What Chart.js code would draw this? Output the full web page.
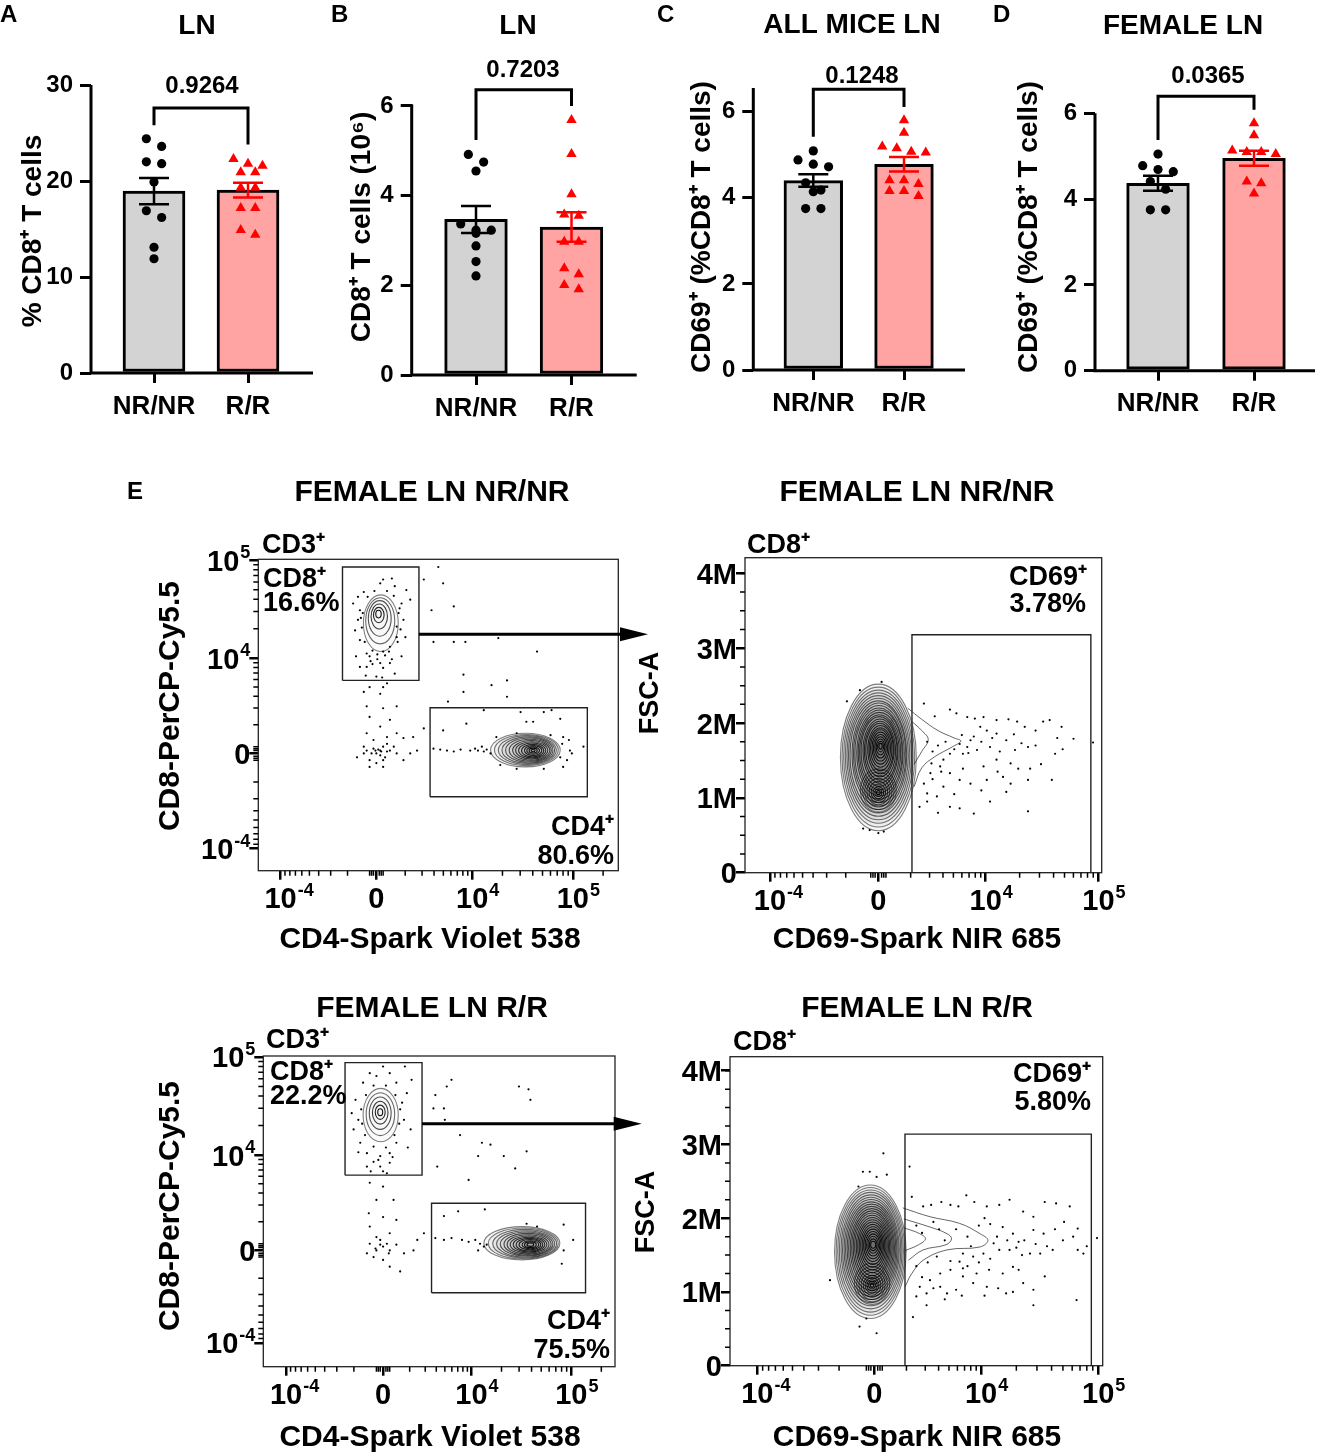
<!DOCTYPE html>
<html>
<head>
<meta charset="utf-8">
<script src="https://cdn.jsdelivr.net/npm/chart.js@4.4.1/dist/chart.umd.min.js"></script>
<style>
  html, body { margin: 0; padding: 0; background: #fff; }
  #page { position: relative; width: 1321px; height: 1454px; overflow: hidden; background: #fff; }
  #page canvas { position: absolute; }
</style>
</head>
<body>
<div id="page"></div>
<script>
// ---- bar panels (A-D) ----
const groups = ['NR/NR', 'R/R'];

const aNR = [24.4, 23.6, 22.0, 21.8, 19.9, 16.9, 16.2, 13.1, 11.9];
const aRR = [22.3, 21.8, 21.6, 20.9, 20.9, 19.3, 19.3, 17.2, 17.2, 14.9, 14.4];
const aMean = [18.95, 19.05];
const aSem = [1.36, 0.78];
const aTicks = [0, 10, 20, 30];

const bNR = [4.92, 4.75, 4.55, 3.37, 3.23, 3.23, 3.16, 2.88, 2.53, 2.21];
const bRR = [5.69, 4.93, 4.03, 3.58, 3.55, 2.97, 2.97, 2.38, 2.25, 2.01, 1.91];
const bMean = [3.47, 3.30];
const bSem = [0.30, 0.33];
const bTicks = [0, 2, 4, 6];

const cNR = [5.09, 4.88, 4.78, 4.72, 4.35, 4.18, 4.14, 3.75, 3.75];
const cRR = [5.80, 5.51, 5.19, 5.15, 5.07, 5.05, 4.41, 4.41, 4.32, 4.16, 4.16, 4.04];
const cMean = [4.40, 4.78];
const cSem = [0.145, 0.17];
const cTicks = [0, 2, 4, 6];

const dNR = [5.05, 4.78, 4.69, 4.64, 4.41, 4.23, 3.75, 3.75];
const dRR = [5.77, 5.49, 5.13, 5.10, 5.10, 5.05, 4.41, 4.37, 4.13];
const dMean = [4.37, 4.95];
const dSem = [0.175, 0.175];
const dTicks = [0, 2, 4, 6];

const pValues = ['0.9264', '0.7203', '0.1248', '0.0365'];

// ---- flow panels (E) ----
// biexponential axes in display units: 10^-4, 0, 10^4, 10^5  ([base, exponent])
const biexLabels = [['10', '-4'], ['0', ''], ['10', '4'], ['10', '5']];
const fscLabels = [['0', ''], ['1M', ''], ['2M', ''], ['3M', ''], ['4M', '']];
const fscTicks = [0, 1, 2, 3, 4];
const fscMinor = [0.25, 0.5, 0.75, 1.25, 1.5, 1.75, 2.25, 2.5, 2.75, 3.25, 3.5, 3.75, 4.0];
const nrCd4Ticks = [0, 0.99, 1.98, 3.02];
const nrCd8Ticks = [0, 0.99, 1.98, 3.0];
const nrCd69Ticks = [0, 1.0, 1.99, 3.03];
const rCd4Ticks = [0, 1.02, 1.95, 3.0];
const rCd8Ticks = [0, 0.97, 1.97, 3.0];
const rCd69Ticks = [0, 1.03, 1.97, 3.0];

// gates: [xFrom, xTo, yFrom, yTo]
const nrCd8Gate = [0.64, 1.43, 1.75, 2.93];
const nrCd4Gate = [1.545, 3.17, 0.54, 1.465];
const rCd8Gate = [0.62, 1.43, 1.76, 2.94];
const rCd4Gate = [1.53, 3.15, 0.526, 1.465];
const nrCd69Gate = [1.31, 2.96, 0.0, 3.18];
const rCd69Gate = [1.30, 2.94, 0.0, 3.14];

// contour rings: [centreX, centreY, radiusX, radiusY]
const nrCd8Rings = [[1.036, 2.345, 0.180, 0.295], [1.030, 2.370, 0.150, 0.240], [1.025, 2.395, 0.118, 0.185],
  [1.020, 2.415, 0.085, 0.130], [1.015, 2.430, 0.055, 0.080], [1.012, 2.440, 0.028, 0.040]];
const nrCd4Rings = [[2.53, 1.025, 0.360, 0.175], [2.54, 1.025, 0.330, 0.162], [2.55, 1.025, 0.300, 0.150],
  [2.56, 1.024, 0.272, 0.138], [2.57, 1.024, 0.245, 0.126], [2.58, 1.023, 0.218, 0.114],
  [2.59, 1.022, 0.192, 0.102], [2.595, 1.022, 0.166, 0.090], [2.60, 1.021, 0.140, 0.077],
  [2.605, 1.020, 0.115, 0.064], [2.61, 1.020, 0.090, 0.051], [2.61, 1.020, 0.066, 0.038],
  [2.61, 1.020, 0.042, 0.025], [2.61, 1.020, 0.020, 0.013]];
const rCd8Rings = [[0.995, 2.390, 0.185, 0.280], [0.992, 2.400, 0.150, 0.225], [0.990, 2.410, 0.115, 0.170],
  [0.990, 2.415, 0.082, 0.120], [0.990, 2.420, 0.052, 0.075], [0.990, 2.420, 0.026, 0.036]];
const rCd4Rings = [[2.48, 1.045, 0.400, 0.175], [2.495, 1.043, 0.368, 0.162], [2.51, 1.041, 0.336, 0.150],
  [2.52, 1.039, 0.306, 0.138], [2.53, 1.037, 0.277, 0.126], [2.54, 1.035, 0.248, 0.114],
  [2.545, 1.033, 0.220, 0.102], [2.55, 1.032, 0.193, 0.090], [2.555, 1.031, 0.166, 0.078],
  [2.56, 1.030, 0.140, 0.066], [2.565, 1.030, 0.114, 0.054], [2.57, 1.030, 0.088, 0.042],
  [2.57, 1.030, 0.062, 0.030], [2.57, 1.030, 0.036, 0.018]];
const nrBlobRings = [[1.00, 1.54, 0.350, 0.980], [1.00, 1.545, 0.335, 0.935], [1.00, 1.55, 0.320, 0.890],
  [1.00, 1.555, 0.305, 0.848], [1.00, 1.56, 0.290, 0.806], [1.00, 1.565, 0.276, 0.766],
  [1.00, 1.57, 0.262, 0.726], [1.005, 1.58, 0.248, 0.688], [1.005, 1.585, 0.235, 0.650],
  [1.005, 1.59, 0.222, 0.612], [1.01, 1.60, 0.209, 0.575], [1.01, 1.605, 0.196, 0.538],
  [1.01, 1.61, 0.183, 0.502], [1.01, 1.62, 0.170, 0.466], [1.015, 1.625, 0.157, 0.430],
  [1.015, 1.63, 0.144, 0.394], [1.015, 1.64, 0.131, 0.358], [1.02, 1.645, 0.118, 0.322],
  [1.02, 1.65, 0.105, 0.286], [1.02, 1.66, 0.092, 0.250], [1.02, 1.665, 0.079, 0.214],
  [1.02, 1.67, 0.066, 0.178], [1.02, 1.675, 0.053, 0.142], [1.02, 1.68, 0.040, 0.106],
  [1.02, 1.685, 0.027, 0.070], [1.02, 1.69, 0.015, 0.038]];
const nrLobeRings = [[1.00, 1.10, 0.165, 0.290], [1.00, 1.095, 0.145, 0.250], [1.00, 1.09, 0.125, 0.212],
  [1.00, 1.085, 0.105, 0.176], [1.00, 1.08, 0.086, 0.142], [1.00, 1.075, 0.067, 0.110],
  [1.00, 1.07, 0.049, 0.080], [1.00, 1.07, 0.032, 0.052], [1.00, 1.07, 0.017, 0.027]];
const rBlobRings = [[0.995, 1.545, 0.315, 0.905], [0.996, 1.550, 0.302, 0.866], [0.997, 1.555, 0.289, 0.828],
  [0.998, 1.560, 0.276, 0.790], [1.000, 1.565, 0.263, 0.752], [1.000, 1.570, 0.250, 0.715],
  [1.002, 1.575, 0.238, 0.678], [1.003, 1.580, 0.226, 0.642], [1.005, 1.585, 0.214, 0.606],
  [1.006, 1.590, 0.202, 0.570], [1.008, 1.595, 0.190, 0.535], [1.009, 1.600, 0.178, 0.500],
  [1.010, 1.605, 0.166, 0.465], [1.011, 1.610, 0.154, 0.430], [1.013, 1.615, 0.142, 0.395],
  [1.014, 1.620, 0.130, 0.360], [1.015, 1.623, 0.118, 0.325], [1.016, 1.626, 0.106, 0.290],
  [1.017, 1.629, 0.094, 0.255], [1.018, 1.632, 0.082, 0.220], [1.019, 1.635, 0.070, 0.185],
  [1.020, 1.638, 0.058, 0.150], [1.020, 1.640, 0.046, 0.115], [1.020, 1.640, 0.034, 0.080],
  [1.020, 1.640, 0.022, 0.048]];
const rLobeRings = [[1.01, 1.11, 0.155, 0.280], [1.01, 1.105, 0.135, 0.240], [1.01, 1.10, 0.115, 0.203],
  [1.01, 1.095, 0.096, 0.168], [1.01, 1.09, 0.078, 0.135], [1.01, 1.09, 0.061, 0.104],
  [1.01, 1.09, 0.045, 0.076], [1.01, 1.09, 0.030, 0.050], [1.01, 1.09, 0.016, 0.026]];

// CD69+ shoulder contours
const nrTail1 = [[1.27, 2.20], [1.40, 2.05], [1.55, 1.90], [1.70, 1.80], [1.76, 1.76], [1.68, 1.68], [1.52, 1.55], [1.40, 1.40], [1.33, 1.15]];
const nrTail2 = [[1.31, 2.02], [1.40, 1.90], [1.46, 1.78], [1.40, 1.62], [1.33, 1.45]];
const rTail1 = [[1.28, 2.14], [1.52, 2.02], [1.78, 1.93], [1.96, 1.79], [2.03, 1.70], [1.96, 1.61], [1.67, 1.57], [1.46, 1.43], [1.36, 1.25], [1.30, 1.07]];
const rTail2 = [[1.29, 1.99], [1.52, 1.88], [1.67, 1.79], [1.71, 1.72], [1.66, 1.64], [1.46, 1.57], [1.33, 1.43]];
const rTail3 = [[1.29, 1.87], [1.43, 1.79], [1.48, 1.72], [1.42, 1.64], [1.30, 1.56]];

// single events
const nrCd4Cd8Dots = [
  [0.75, 2.55], [0.80, 2.38], [0.77, 2.27], [0.82, 2.17], [0.89, 2.03], [1.06, 2.05], [1.13, 2.10], [1.20, 2.20],
  [1.27, 2.38], [1.25, 2.55], [1.18, 2.73], [1.06, 2.80], [1.03, 2.76], [1.15, 2.81], [1.30, 2.69], [1.34, 2.59],
  [0.86, 2.67], [0.82, 1.89], [0.89, 1.89], [1.03, 1.93], [1.06, 1.88], [1.13, 1.93], [0.99, 1.79], [1.08, 2.01],
  [0.92, 2.00], [0.82, 2.48], [1.22, 2.45], [1.20, 2.31], [0.80, 2.62],
  [0.84, 2.30], [0.85, 2.45], [0.87, 2.15], [0.95, 2.06], [1.00, 2.02], [1.12, 2.05], [1.21, 2.15], [1.24, 2.28],
  [1.23, 2.50], [1.17, 2.63], [1.10, 2.68], [0.97, 2.68], [0.90, 2.62], [0.83, 2.40], [1.00, 1.97], [0.95, 1.92],
  [1.15, 1.97], [0.88, 1.80], [1.05, 1.78], [1.18, 1.82], [0.93, 1.95], [1.25, 2.00], [0.78, 2.00], [1.29, 2.20],
  [0.92, 1.68], [1.06, 1.68], [1.03, 1.61], [0.86, 1.63], [1.10, 1.72], [0.89, 1.48], [1.06, 1.46], [1.20, 1.48],
  [0.92, 1.37], [1.13, 1.34], [1.03, 1.27], [0.89, 1.20], [1.10, 1.16], [1.20, 1.20], [1.27, 1.15], [1.37, 1.16],
  [1.48, 1.25], [1.34, 0.99], [1.41, 1.02], [1.20, 0.99], [1.27, 0.92], [1.06, 0.85], [0.92, 0.85], [0.86, 0.99],
  [0.79, 0.95], [1.03, 1.02], [0.99, 0.99], [0.96, 1.04], [1.06, 1.06], [1.03, 0.97], [1.10, 1.01], [0.92, 0.92],
  [0.99, 0.89], [0.98, 1.02], [1.01, 1.03], [1.04, 1.01], [0.94, 0.99], [1.08, 0.95], [0.89, 1.02], [1.13, 1.02],
  [1.06, 0.92], [0.86, 1.06], [1.17, 1.06], [0.96, 1.13], [1.10, 1.09],
  [1.63, 2.93], [1.68, 2.76], [1.79, 2.52], [1.56, 2.48], [1.48, 2.80], [1.58, 2.15], [1.79, 2.15], [1.91, 2.15],
  [2.25, 2.19], [2.65, 2.05], [1.89, 1.81], [2.18, 1.70], [2.34, 1.75], [2.34, 1.58], [1.73, 1.53], [1.89, 1.63],
  [2.10, 1.44], [2.48, 1.42], [2.72, 1.42], [2.80, 1.44], [2.89, 1.35], [1.68, 1.23], [1.92, 1.30], [2.54, 1.32],
  [2.61, 1.32], [2.92, 1.16], [2.98, 1.13], [3.01, 0.99], [3.13, 1.06], [2.96, 0.92], [2.92, 0.85],
  [1.58, 1.04], [1.65, 1.03], [1.72, 1.02], [1.79, 1.01], [1.86, 1.03], [1.96, 1.02], [2.01, 1.04], [2.04, 1.02],
  [2.10, 1.01], [2.13, 1.03], [2.17, 0.99], [2.08, 1.06],
  [2.23, 1.16], [2.44, 1.20], [2.79, 1.18], [2.91, 1.09], [2.89, 0.95], [2.72, 0.83], [2.44, 0.83], [2.27, 0.87], [2.99, 1.02]
];
const rCd4Cd8Dots = [
  [0.73, 2.55], [0.76, 2.34], [0.71, 2.24], [0.78, 2.10], [0.85, 1.99], [0.99, 1.96], [1.09, 1.99], [1.16, 2.10],
  [1.24, 2.34], [1.22, 2.52], [1.16, 2.73], [1.02, 2.90], [0.95, 2.80], [1.09, 2.83], [1.25, 2.90], [1.32, 2.76],
  [0.81, 2.73], [0.85, 1.85], [0.99, 1.85], [1.02, 1.80], [0.92, 1.90], [1.09, 1.89], [1.31, 2.24], [0.69, 2.41],
  [1.27, 2.62], [0.88, 2.83],
  [0.80, 2.30], [0.79, 2.45], [0.83, 2.18], [0.92, 2.06], [1.05, 2.05], [1.14, 2.18], [1.19, 2.30], [1.20, 2.45],
  [1.15, 2.60], [1.05, 2.70], [0.92, 2.70], [0.84, 2.60], [0.97, 1.92], [1.12, 1.95], [0.89, 1.80], [1.06, 1.78],
  [0.76, 2.00], [1.28, 2.05],
  [0.88, 1.68], [1.02, 1.64], [0.95, 1.50], [1.13, 1.50], [0.87, 1.36], [1.02, 1.32], [1.16, 1.29], [0.88, 1.22],
  [1.09, 1.15], [0.95, 1.11], [0.88, 1.04], [0.99, 1.08], [1.02, 1.01], [0.95, 0.97], [1.09, 0.97], [1.16, 1.03],
  [1.24, 0.94], [1.34, 0.97], [1.38, 1.08], [1.45, 1.15], [0.85, 0.94], [0.92, 0.90], [1.02, 0.87], [1.09, 0.80],
  [1.20, 0.75], [0.99, 1.03], [0.94, 0.99], [1.06, 1.04], [1.08, 0.94],
  [1.57, 2.60], [1.74, 2.76], [1.69, 2.69], [1.66, 2.46], [1.55, 2.46], [1.67, 2.34], [2.45, 2.69], [2.55, 2.66],
  [2.57, 2.55], [1.83, 2.18], [2.06, 2.10], [2.15, 2.08], [2.02, 1.96], [2.29, 1.96], [2.53, 2.01], [1.59, 1.85],
  [2.41, 1.83], [1.92, 1.71], [1.81, 1.38], [2.09, 1.40], [1.66, 1.33], [2.53, 1.25], [2.64, 1.22], [2.92, 1.24],
  [3.02, 1.08], [2.92, 0.97], [2.90, 0.83],
  [1.57, 1.10], [1.66, 1.08], [1.74, 1.10], [1.85, 1.08], [1.92, 1.06], [1.99, 1.08], [2.04, 1.04], [2.08, 1.01],
  [2.11, 1.03], [2.02, 0.97]
];
const nrCd69Dots = [
  [1.42, 2.26], [1.52, 2.09], [1.66, 2.18], [1.72, 2.13], [1.82, 2.08], [1.89, 2.06], [1.97, 2.08], [2.09, 2.04],
  [2.20, 2.05], [2.28, 2.02], [2.45, 1.90], [2.52, 2.02], [2.58, 2.04], [2.69, 1.95], [2.65, 1.80], [2.80, 1.79],
  [2.98, 1.74], [2.63, 1.59], [2.32, 1.73], [2.38, 1.68], [2.26, 1.64], [2.18, 1.77], [2.09, 1.86], [2.00, 1.90],
  [1.94, 1.95], [1.88, 1.82], [1.82, 1.68], [1.78, 1.59], [1.91, 1.64], [2.03, 1.68], [1.85, 1.77], [1.77, 1.84],
  [1.66, 1.59], [1.60, 1.51], [1.57, 1.42], [1.66, 1.33], [1.75, 1.24], [1.85, 1.19], [2.00, 1.24], [2.15, 1.28],
  [2.29, 1.39], [2.40, 1.39], [2.38, 1.24], [2.22, 1.19], [2.18, 1.08], [2.03, 0.95], [1.88, 0.79], [1.75, 0.86],
  [1.66, 0.88], [1.54, 1.02], [1.45, 1.06], [1.48, 1.33], [1.42, 1.19], [1.38, 0.88], [2.38, 0.82], [2.60, 1.24],
  [1.58, 1.35], [1.49, 1.46], [1.78, 1.39], [1.97, 1.42], [2.09, 1.51], [2.22, 1.46],
  [1.45, 1.75], [1.50, 1.62], [1.55, 1.70], [1.62, 1.75], [1.70, 1.65], [1.75, 1.72], [1.83, 1.60], [1.95, 1.75],
  [2.05, 1.80], [2.12, 1.62], [2.25, 1.85], [2.35, 1.95], [2.45, 1.70], [2.50, 1.45], [2.70, 1.65], [1.50, 1.25],
  [1.60, 1.15], [1.70, 1.05], [1.95, 1.10], [2.10, 1.35], [1.45, 0.95], [1.55, 0.80],
  [0.83, 2.44], [0.71, 2.29], [1.03, 2.55], [0.92, 0.57], [1.00, 0.53], [1.05, 0.55], [0.86, 0.59]
];
const rCd69Dots = [
  [0.93, 2.63], [1.11, 2.88], [1.05, 2.56], [1.14, 2.59], [0.89, 2.43], [1.34, 2.70], [1.36, 2.29], [1.46, 2.16],
  [1.53, 2.18], [1.62, 2.22], [1.70, 2.18], [1.77, 2.16], [1.84, 2.31], [1.91, 2.22], [2.02, 2.16], [2.13, 2.18],
  [2.22, 2.25], [2.34, 2.09], [2.43, 2.02], [2.53, 2.22], [2.63, 2.20], [2.75, 2.16], [2.82, 1.86], [2.69, 1.70],
  [2.60, 1.57], [2.82, 1.57], [2.87, 1.52], [2.52, 1.79], [2.43, 1.84], [2.35, 1.70], [2.25, 1.79], [2.16, 1.88],
  [2.11, 1.75], [2.08, 1.66], [2.13, 1.57], [2.22, 1.57], [2.30, 1.68], [2.40, 1.52], [2.49, 1.52], [1.99, 1.52],
  [1.90, 1.48], [1.81, 1.52], [1.78, 1.41], [1.70, 1.30], [1.61, 1.25], [1.52, 1.16], [1.43, 1.07], [1.40, 0.94],
  [1.49, 0.98], [1.61, 1.07], [1.75, 1.03], [1.90, 1.12], [2.02, 1.07], [2.12, 1.05], [2.19, 0.98], [2.34, 1.12],
  [2.43, 1.03], [2.53, 1.21], [1.93, 1.25], [1.81, 1.21], [1.67, 0.98], [1.49, 0.82], [1.37, 0.66], [2.43, 0.82],
  [2.81, 0.89], [2.25, 1.34], [2.04, 1.30], [1.81, 1.32], [2.16, 1.25], [2.99, 1.73],
  [1.40, 1.90], [1.45, 1.80], [1.55, 1.95], [1.60, 1.85], [1.65, 1.70], [1.75, 1.85], [1.85, 1.75], [1.88, 1.62],
  [1.95, 1.90], [2.00, 2.00], [2.05, 1.92], [2.20, 1.70], [2.28, 1.60], [2.33, 1.50], [2.45, 1.65], [2.55, 1.62],
  [2.62, 1.85], [2.70, 1.95], [2.78, 1.75], [2.90, 1.62], [1.40, 1.35], [1.50, 1.40], [1.58, 1.48], [1.70, 1.42],
  [1.85, 1.35], [1.95, 1.40], [2.05, 1.45], [2.30, 1.30], [1.45, 1.20], [1.55, 1.05], [1.65, 0.90], [1.80, 0.95],
  [2.00, 0.95], [2.25, 1.00],
  [0.64, 1.16], [0.90, 0.53], [1.05, 0.44], [0.96, 0.64], [0.99, 2.63]
];

// ---------------------------------------------------------------
const FONT = '"Liberation Sans", Arial, Helvetica, sans-serif';
Chart.defaults.font.family = FONT;
Chart.defaults.font.weight = 'bold';
Chart.defaults.color = '#000';
Chart.defaults.animation = false;
Chart.defaults.events = [];
Chart.defaults.plugins.legend.display = false;
Chart.defaults.plugins.tooltip.enabled = false;

const page = document.getElementById('page');

function addCanvas(box) {
  const c = document.createElement('canvas');
  c.width = box[2];
  c.height = box[3];
  c.style.left = box[0] + 'px';
  c.style.top = box[1] + 'px';
  page.appendChild(c);
  return c;
}

// text positions are page coordinates; ox/oy is the canvas origin
function label(ctx, ox, oy, t) {
  ctx.save();
  ctx.font = 'bold ' + t.size + 'px ' + FONT;
  ctx.fillStyle = '#000';
  ctx.textAlign = t.align || 'center';
  ctx.textBaseline = 'middle';
  ctx.translate(t.x - ox, t.y - oy);
  if (t.rot) ctx.rotate(-Math.PI / 2);
  ctx.fillText(t.text, 0, 0);
  ctx.restore();
}

// "10" with a raised exponent; y is the middle of the capitals
function powerLabel(ctx, lbl, x, y, mode) {
  const [base, exp] = lbl;
  ctx.save();
  ctx.fillStyle = '#000';
  ctx.textAlign = 'left';
  ctx.textBaseline = 'alphabetic';
  ctx.font = 'bold 29px ' + FONT;
  const bw = ctx.measureText(base).width;
  ctx.font = 'bold 18px ' + FONT;
  const ew = exp ? ctx.measureText(exp).width + 1 : 0;
  const x0 = mode === 'right' ? x - bw - ew : x - bw / 2;
  ctx.font = 'bold 29px ' + FONT;
  ctx.fillText(base, x0, y + 10.5);
  if (exp) {
    ctx.font = 'bold 18px ' + FONT;
    ctx.fillText(exp, x0 + bw + 1, y - 2);
  }
  ctx.restore();
}

// column-scatter layout: points closer than `gap` px form a row, rows are centred
function columnScatter(values, pxY, pxX, gap, step) {
  const order = values.map((v, i) => i).sort((a, b) => values[b] - values[a]);
  const off = [];
  let row = [];
  const flush = () => {
    row.forEach((i, k) => { off[i] = (k - (row.length - 1) / 2) * step / pxX; });
    row = [];
  };
  for (const i of order) {
    if (row.length && (values[row[0]] - values[i]) * pxY > gap) flush();
    row.push(i);
  }
  flush();
  return values.map((v, i) => ({ x: off[i], y: v }));
}

function barPanel(p) {
  const canvas = addCanvas(p.box);
  const [ox, oy, w, h] = p.box;
  const pxY = (p.zeroY - p.tickTopY) / p.ticks[p.ticks.length - 1];
  const areaTop = p.zeroY - p.axisTop * pxY;
  const span = p.c1 - p.c0;
  const nrPts = columnScatter(p.nr, pxY, span, 9, 15.3);
  const rrPts = columnScatter(p.rr, pxY, span, 9, 14.5).map(d => ({ x: 1 + d.x, y: d.y }));
  const ink = ['#000', '#ff0000'];

  const decor = {
    id: 'barDecor',
    afterDatasetsDraw(chart) {
      const ctx = chart.ctx, xs = chart.scales.x, ys = chart.scales.y, ca = chart.chartArea;
      ctx.save();
      p.mean.forEach((m, g) => {
        const x = xs.getPixelForValue(g);
        const hi = ys.getPixelForValue(m + p.sem[g]);
        const lo = ys.getPixelForValue(m - p.sem[g]);
        ctx.strokeStyle = ink[g];
        ctx.lineWidth = 2.5;
        ctx.beginPath();
        ctx.moveTo(x, lo); ctx.lineTo(x, hi);
        ctx.moveTo(x - 15, hi); ctx.lineTo(x + 15, hi);
        ctx.moveTo(x - 15, lo); ctx.lineTo(x + 15, lo);
        ctx.stroke();
      });
      ctx.strokeStyle = '#000';
      ctx.lineWidth = 3;
      const yz = ys.getPixelForValue(0);
      ctx.beginPath();
      ctx.moveTo(ca.left, ys.getPixelForValue(p.axisTop));
      ctx.lineTo(ca.left, yz + 1.5);
      ctx.moveTo(ca.left - 1.5, yz);
      ctx.lineTo(ca.right, yz);
      ctx.stroke();
      const [top, legL, legR] = p.bracket;
      ctx.beginPath();
      ctx.moveTo(xs.getPixelForValue(0), ys.getPixelForValue(legL));
      ctx.lineTo(xs.getPixelForValue(0), ys.getPixelForValue(top));
      ctx.lineTo(xs.getPixelForValue(1), ys.getPixelForValue(top));
      ctx.lineTo(xs.getPixelForValue(1), ys.getPixelForValue(legR));
      ctx.stroke();
      ctx.restore();
      p.texts.forEach(t => label(ctx, ox, oy, t));
    }
  };

  new Chart(canvas, {
    type: 'bar',
    data: {
      datasets: [
        { type: 'scatter', data: nrPts, pointStyle: 'circle', pointRadius: 4.6, backgroundColor: '#000', borderWidth: 0, order: 1 },
        { type: 'scatter', data: rrPts, pointStyle: 'triangle', pointRadius: 6, backgroundColor: '#ff0000', borderWidth: 0, order: 1 },
        {
          type: 'bar',
          data: p.mean.map((m, g) => ({ x: g, y: m })),
          backgroundColor: ['#d3d3d3', '#ffa3a3'],
          borderColor: '#000', borderWidth: 3, borderSkipped: false,
          barThickness: p.barW, order: 2
        }
      ]
    },
    options: {
      responsive: false,
      layout: { padding: { left: 0, top: areaTop - oy, right: ox + w - p.right, bottom: 0 } },
      scales: {
        x: {
          type: 'linear',
          offset: false,
          min: (p.left - p.c0) / span,
          max: (p.right - p.c0) / span,
          afterBuildTicks: s => { s.ticks = [{ value: 0 }, { value: 1 }]; },
          afterFit: s => { s.height = oy + h - p.zeroY; s.paddingLeft = 0; s.paddingRight = 0; },
          ticks: { callback: v => groups[v], font: { size: 26 }, padding: 8, autoSkip: false, maxRotation: 0 },
          grid: { offset: false, drawOnChartArea: false, tickLength: 10, lineWidth: 3, color: '#000' },
          border: { display: false }
        },
        y: {
          min: 0,
          max: p.axisTop,
          afterBuildTicks: s => { s.ticks = p.ticks.map(v => ({ value: v })); },
          afterFit: s => { s.width = p.left - ox; s.paddingTop = 0; s.paddingBottom = 0; },
          ticks: { font: { size: 24 }, padding: 7, autoSkip: false },
          grid: { drawOnChartArea: false, tickLength: 11, lineWidth: 3, color: '#000' },
          border: { display: false }
        }
      }
    },
    plugins: [decor]
  });
}

// log-style minor tick fractions between biex decades
const decadeFrac = [0.301, 0.477, 0.602, 0.699, 0.778, 0.845, 0.903, 0.954];
function biexMinor(t) {
  const out = [];
  decadeFrac.forEach(f => {
    out.push(t[0] + (t[1] - t[0]) * (1 - f));
    out.push(t[1] + (t[2] - t[1]) * f);
    out.push(t[2] + (t[3] - t[2]) * f);
    out.push(t[3] + (t[3] - t[2]) * f);
  });
  [-0.07, -0.05, -0.03, 0.03, 0.05, 0.07].forEach(d => out.push(t[1] + d));
  return out;
}

function flowPanel(p) {
  const canvas = addCanvas(p.box);
  const [ox, oy, w, h] = p.box;
  const [aL, aT, aR, aB] = p.area;
  const pts = arr => arr.map(([x, y]) => ({ x, y }));
  const rect = g => pts([[g[0], g[2]], [g[1], g[2]], [g[1], g[3]], [g[0], g[3]], [g[0], g[2]]]);
  const xMinor = p.xMinor || biexMinor(p.xTicks);
  const yMinor = p.yMinor || biexMinor(p.yTicks);

  const decor = {
    id: 'flowDecor',
    beforeDatasetsDraw(chart) {
      const ctx = chart.ctx, xs = chart.scales.x, ys = chart.scales.y, ca = chart.chartArea;
      ctx.save();
      ctx.beginPath();
      ctx.rect(ca.left, ca.top, ca.width, ca.height);
      ctx.clip();
      ctx.lineWidth = 1.1;
      p.rings.forEach((levels, k) => levels.forEach((r, i) => {
        const cx = xs.getPixelForValue(r[0]), cy = ys.getPixelForValue(r[1]);
        const rx = Math.abs(xs.getPixelForValue(r[0] + r[2]) - cx);
        const ry = Math.abs(ys.getPixelForValue(r[1] + r[3]) - cy);
        ctx.beginPath();
        ctx.ellipse(cx, cy, rx, ry, 0, 0, Math.PI * 2);
        ctx.fillStyle = 'rgba(0,0,0,' + p.ringFill[k] + ')';
        ctx.fill();
        ctx.strokeStyle = 'rgba(0,0,0,' + (0.5 + 0.45 * i / (levels.length - 1)).toFixed(2) + ')';
        ctx.stroke();
      }));
      ctx.restore();
    },
    afterDraw(chart) {
      const ctx = chart.ctx, xs = chart.scales.x, ys = chart.scales.y, ca = chart.chartArea;
      ctx.save();
      ctx.strokeStyle = '#222';
      ctx.lineWidth = 1.3;
      ctx.strokeRect(ca.left, ca.top, ca.width, ca.height);
      ctx.strokeStyle = '#000';
      ctx.lineWidth = 1.5;
      ctx.beginPath();
      xMinor.forEach(v => {
        if (v <= xs.min || v >= xs.max) return;
        const x = xs.getPixelForValue(v);
        ctx.moveTo(x, ca.bottom); ctx.lineTo(x, ca.bottom + 5);
      });
      yMinor.forEach(v => {
        if (v <= ys.min || v >= ys.max) return;
        const y = ys.getPixelForValue(v);
        ctx.moveTo(ca.left - 5, y); ctx.lineTo(ca.left, y);
      });
      ctx.stroke();
      if (p.arrow) {
        const [xv, yv, endX] = p.arrow;
        const x0 = xs.getPixelForValue(xv), y0 = ys.getPixelForValue(yv), x1 = endX - ox;
        ctx.lineWidth = 3;
        ctx.beginPath();
        ctx.moveTo(x0, y0); ctx.lineTo(x1 - 26, y0);
        ctx.stroke();
        ctx.fillStyle = '#000';
        ctx.beginPath();
        ctx.moveTo(x1, y0); ctx.lineTo(x1 - 28, y0 - 7); ctx.lineTo(x1 - 28, y0 + 7);
        ctx.closePath();
        ctx.fill();
      }
      ctx.restore();
      p.xTicks.forEach((v, i) => powerLabel(ctx, p.xLabels[i], xs.getPixelForValue(v), ca.bottom + 27, 'center'));
      p.yTicks.forEach((v, i) => powerLabel(ctx, p.yLabels[i], ca.left - 8, ys.getPixelForValue(v), 'right'));
      p.texts.forEach(t => label(ctx, ox, oy, t));
    }
  };

  const datasets = [
    { data: pts(p.dots), pointRadius: 1.1, backgroundColor: '#000', borderWidth: 0 },
    ...p.gates.map(g => ({ data: rect(g), showLine: true, borderColor: '#222', borderWidth: 1.4, pointRadius: 0, tension: 0 })),
    ...p.tails.map(t => ({ data: pts(t), showLine: true, borderColor: 'rgba(0,0,0,0.6)', borderWidth: 1, pointRadius: 0, tension: 0.4 }))
  ];

  new Chart(canvas, {
    type: 'scatter',
    data: { datasets },
    options: {
      responsive: false,
      layout: { padding: { left: 0, top: aT - oy, right: ox + w - aR, bottom: 0 } },
      scales: {
        x: {
          type: 'linear', min: p.xRange[0], max: p.xRange[1],
          afterBuildTicks: s => { s.ticks = p.xTicks.map(v => ({ value: v })); },
          afterFit: s => { s.height = oy + h - aB; s.paddingLeft = 0; s.paddingRight = 0; },
          ticks: { display: false },
          grid: { drawOnChartArea: false, tickLength: 9, lineWidth: 2.5, color: '#000' },
          border: { display: false }
        },
        y: {
          type: 'linear', min: p.yRange[0], max: p.yRange[1],
          afterBuildTicks: s => { s.ticks = p.yTicks.map(v => ({ value: v })); },
          afterFit: s => { s.width = aL - ox; s.paddingTop = 0; s.paddingBottom = 0; },
          ticks: { display: false },
          grid: { drawOnChartArea: false, tickLength: 9, lineWidth: 2.5, color: '#000' },
          border: { display: false }
        }
      }
    },
    plugins: [decor]
  });
}

// ---------------- panels ----------------
barPanel({
  box: [0, 0, 330, 440], nr: aNR, rr: aRR, mean: aMean, sem: aSem, ticks: aTicks,
  zeroY: 373, tickTopY: 85, axisTop: 30, left: 91, right: 313, c0: 154, c1: 248, barW: 62,
  bracket: [27.6, 25.8, 23.8],
  texts: [
    { text: 'A', x: 0, y: 15, size: 24, align: 'left' },
    { text: 'LN', x: 197, y: 26, size: 28 },
    { text: pValues[0], x: 202, y: 86, size: 24 },
    { text: '% CD8⁺ T cells', x: 33, y: 231, size: 28, rot: true }
  ]
});
barPanel({
  box: [330, 0, 320, 440], nr: bNR, rr: bRR, mean: bMean, sem: bSem, ticks: bTicks,
  zeroY: 375, tickTopY: 106, axisTop: 6.04, left: 411.7, right: 636.7, c0: 476, c1: 571.5, barW: 62.7,
  bracket: [6.36, 5.24, 6.0],
  texts: [
    { text: 'B', x: 331, y: 15, size: 24, align: 'left' },
    { text: 'LN', x: 518, y: 26, size: 28 },
    { text: pValues[1], x: 523, y: 70.5, size: 24 },
    { text: 'CD8⁺ T cells (10⁶)', x: 362, y: 227, size: 28, rot: true }
  ]
});
barPanel({
  box: [650, 0, 340, 440], nr: cNR, rr: cRR, mean: cMean, sem: cSem, ticks: cTicks,
  zeroY: 370, tickTopY: 111.7, axisTop: 6.55, left: 753.3, right: 965, c0: 813.3, c1: 904, barW: 58.7,
  bracket: [6.52, 5.42, 6.11],
  texts: [
    { text: 'C', x: 657, y: 15, size: 24, align: 'left' },
    { text: 'ALL MICE LN', x: 852, y: 25, size: 28 },
    { text: pValues[2], x: 862, y: 76, size: 24 },
    { text: 'CD69⁺ (%CD8⁺ T cells)', x: 702, y: 227, size: 28, rot: true }
  ]
});
barPanel({
  box: [990, 0, 331, 440], nr: dNR, rr: dRR, mean: dMean, sem: dSem, ticks: dTicks,
  zeroY: 370.7, tickTopY: 113.3, axisTop: 6, left: 1095, right: 1315, c0: 1158, c1: 1254, barW: 62.7,
  bracket: [6.40, 5.38, 6.08],
  texts: [
    { text: 'D', x: 993, y: 15, size: 24, align: 'left' },
    { text: 'FEMALE LN', x: 1183, y: 26, size: 28 },
    { text: pValues[3], x: 1208, y: 76, size: 24 },
    { text: 'CD69⁺ (%CD8⁺ T cells)', x: 1029, y: 227, size: 28, rot: true }
  ]
});

flowPanel({
  box: [115, 465, 535, 500], area: [258.3, 559.3, 618.3, 870.7],
  xRange: [-0.23, 3.49], yRange: [-0.23, 3.01],
  xTicks: nrCd4Ticks, yTicks: nrCd8Ticks, xLabels: biexLabels, yLabels: biexLabels,
  dots: nrCd4Cd8Dots, gates: [nrCd8Gate, nrCd4Gate], rings: [nrCd8Rings, nrCd4Rings], ringFill: [0.01, 0.035], tails: [],
  arrow: [1.43, 2.23, 648],
  texts: [
    { text: 'E', x: 127, y: 492, size: 24, align: 'left' },
    { text: 'FEMALE LN NR/NR', x: 432, y: 493, size: 30 },
    { text: 'CD8-PerCP-Cy5.5', x: 171, y: 706, size: 30, rot: true },
    { text: 'CD4-Spark Violet 538', x: 430, y: 940, size: 30 },
    { text: 'CD3⁺', x: 262, y: 546, size: 27, align: 'left' },
    { text: 'CD8⁺', x: 263, y: 580, size: 27, align: 'left' },
    { text: '16.6%', x: 263, y: 604, size: 27, align: 'left' },
    { text: 'CD4⁺', x: 614, y: 828, size: 27, align: 'right' },
    { text: '80.6%', x: 614, y: 857, size: 27, align: 'right' }
  ]
});
flowPanel({
  box: [625, 465, 520, 500], area: [745, 557.7, 1101.7, 872.7],
  xRange: [-0.23, 3.06], yRange: [0, 4.21],
  xTicks: nrCd69Ticks, yTicks: fscTicks, xLabels: biexLabels, yLabels: fscLabels, yMinor: fscMinor,
  dots: nrCd69Dots, gates: [nrCd69Gate], rings: [nrBlobRings, nrLobeRings], ringFill: [0.035, 0.03], tails: [nrTail1, nrTail2],
  texts: [
    { text: 'FEMALE LN NR/NR', x: 917, y: 493, size: 30 },
    { text: 'FSC-A', x: 651, y: 693, size: 27, rot: true },
    { text: 'CD69-Spark NIR 685', x: 917, y: 940, size: 30 },
    { text: 'CD8⁺', x: 747, y: 546, size: 27, align: 'left' },
    { text: 'CD69⁺', x: 1087, y: 578, size: 27, align: 'right' },
    { text: '3.78%', x: 1086, y: 605, size: 27, align: 'right' }
  ]
});
flowPanel({
  box: [115, 985, 535, 469], area: [263.3, 1056, 615, 1366.7],
  xRange: [-0.24, 3.46], yRange: [-0.25, 3.01],
  xTicks: rCd4Ticks, yTicks: rCd8Ticks, xLabels: biexLabels, yLabels: biexLabels,
  dots: rCd4Cd8Dots, gates: [rCd8Gate, rCd4Gate], rings: [rCd8Rings, rCd4Rings], ringFill: [0.01, 0.035], tails: [],
  arrow: [1.43, 2.30, 641.7],
  texts: [
    { text: 'FEMALE LN R/R', x: 432, y: 1009, size: 30 },
    { text: 'CD8-PerCP-Cy5.5', x: 171, y: 1206, size: 30, rot: true },
    { text: 'CD4-Spark Violet 538', x: 430, y: 1438, size: 30 },
    { text: 'CD3⁺', x: 266, y: 1041, size: 27, align: 'left' },
    { text: 'CD8⁺', x: 270, y: 1073, size: 27, align: 'left' },
    { text: '22.2%', x: 270, y: 1097, size: 27, align: 'left' },
    { text: 'CD4⁺', x: 610, y: 1322, size: 27, align: 'right' },
    { text: '75.5%', x: 610, y: 1351, size: 27, align: 'right' }
  ]
});
flowPanel({
  box: [625, 985, 520, 469], area: [730, 1056.7, 1102.7, 1365.7],
  xRange: [-0.24, 3.04], yRange: [0, 4.19],
  xTicks: rCd69Ticks, yTicks: fscTicks, xLabels: biexLabels, yLabels: fscLabels, yMinor: fscMinor,
  dots: rCd69Dots, gates: [rCd69Gate], rings: [rBlobRings, rLobeRings], ringFill: [0.035, 0.03], tails: [rTail1, rTail2, rTail3],
  texts: [
    { text: 'FEMALE LN R/R', x: 917, y: 1009, size: 30 },
    { text: 'FSC-A', x: 647, y: 1212, size: 27, rot: true },
    { text: 'CD69-Spark NIR 685', x: 917, y: 1438, size: 30 },
    { text: 'CD8⁺', x: 733, y: 1043, size: 27, align: 'left' },
    { text: 'CD69⁺', x: 1091, y: 1075, size: 27, align: 'right' },
    { text: '5.80%', x: 1091, y: 1103, size: 27, align: 'right' }
  ]
});
</script>
</body>
</html>
